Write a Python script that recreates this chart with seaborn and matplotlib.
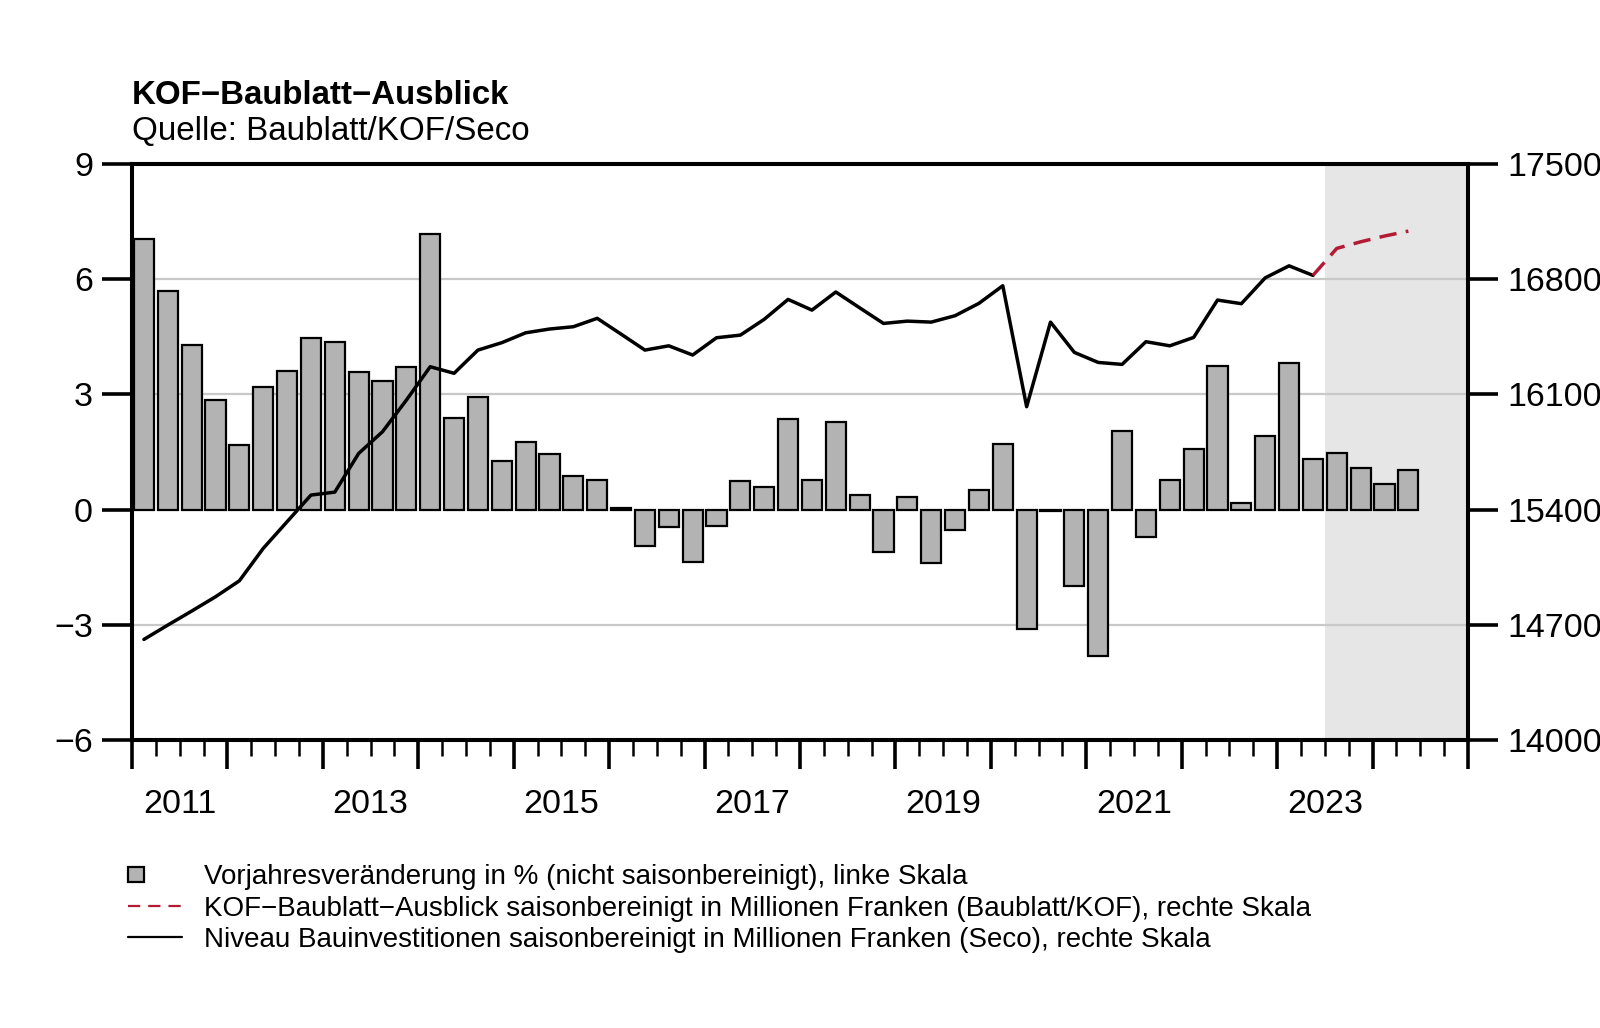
import numpy as np
import matplotlib
matplotlib.use("Agg")
import matplotlib.pyplot as plt
import matplotlib.patches as mpatches
from matplotlib.lines import Line2D
from matplotlib.legend_handler import HandlerPatch
import seaborn as sns

# quarterly data 2011Q1 - 2024Q2
quarters = [f"{2011 + i // 4}Q{i % 4 + 1}" for i in range(54)]

# Vorjahresveraenderung in % (linke Skala)
veraenderung = [
    7.04, 5.70, 4.28, 2.85, 1.68, 3.19, 3.61, 4.47, 4.36, 3.58,
    3.35, 3.72, 7.17, 2.38, 2.94, 1.26, 1.76, 1.45, 0.87, 0.77,
    0.04, -0.95, -0.46, -1.36, -0.42, 0.75, 0.59, 2.36, 0.77, 2.28,
    0.38, -1.10, 0.33, -1.38, -0.53, 0.52, 1.71, -3.12, -0.04, -1.98,
    -3.81, 2.04, -0.72, 0.78, 1.58, 3.75, 0.16, 1.92, 3.82, 1.32,
    1.47, 1.09, 0.67, 1.04,
]

# Niveau Bauinvestitionen (Seco), 2011Q1 - 2023Q2, rechte Skala
seco = [
    14611, 14698, 14783, 14870, 14967, 15164, 15326, 15488, 15506, 15741,
    15873, 16065, 16268, 16228, 16369, 16414, 16474, 16497, 16511, 16562,
    16466, 16369, 16395, 16339, 16444, 16460, 16556, 16677, 16612, 16722,
    16626, 16531, 16545, 16539, 16578, 16653, 16760, 16025, 16539, 16355,
    16294, 16282, 16420, 16395, 16446, 16673, 16651, 16808, 16881, 16823,
]

# KOF-Baublatt-Ausblick, 2023Q2 - 2024Q2, rechte Skala
ausblick = [16823, 16987, 17027, 17062, 17092]

prognose_start = "2023Q3"
label_years = [2011, 2013, 2015, 2017, 2019, 2021, 2023]


def qpos(q):
    # middle of the quarter on a decimal-year axis
    return int(q[:4]) + (int(q[-1]) - 1) / 4 + 0.125


t = np.array([qpos(q) for q in quarters])
t_seco = t[:len(seco)]
t_ausblick = t[len(seco) - 1:len(seco) - 1 + len(ausblick)]

sns.set_style("white")
plt.rcParams["font.family"] = ["Liberation Sans", "DejaVu Sans"]
for k in ["text.color", "axes.labelcolor", "xtick.color", "ytick.color"]:
    plt.rcParams[k] = "black"

fig = plt.figure(figsize=(16, 10.28), dpi=100)
ax = fig.add_axes([0.0825, 0.2802, 0.835, 0.5603])
ax2 = ax.twinx()

ax.axvspan(qpos(prognose_start) - 0.125, 2025, color="#E6E6E6", zorder=0, lw=0)
for yv in [-3, 3, 6]:
    ax.axhline(yv, color="#C8C8C8", lw=1.6, zorder=1)

sns.barplot(x=t, y=veraenderung, native_scale=True, width=0.85,
            color="#B3B3B3", saturation=1, edgecolor="black", linewidth=1.6,
            errorbar=None, ax=ax, zorder=2)

sns.lineplot(x=t_seco, y=seco, color="black", lw=2.5, ax=ax2)
sns.lineplot(x=t_ausblick, y=ausblick, color="#B31B34", lw=2.5,
             dashes=(5, 2.7), ax=ax2)

ax.set_xlim(2011, 2025)
ax.set_ylim(-6, 9)
ax2.set_ylim(14000, 17500)
ax.set_yticks([-6, -3, 0, 3, 6, 9])
ax2.set_yticks(np.arange(14000, 17501, 700))
ax.set_xticks(range(2011, 2026))
ax.set_xticklabels([])
ax.set_xticks(np.arange(2011, 2025.01, 0.25), minor=True)
ax.set_xlabel("")
ax.set_ylabel("")
ax2.set_ylabel("")

ax.tick_params(axis="x", which="major", bottom=True, length=21, width=2.6,
               direction="out")
ax.tick_params(axis="x", which="minor", bottom=True, length=11.5, width=1.8,
               direction="out")
ax.tick_params(axis="y", left=True, length=21.6, width=2.6, pad=6.5, labelsize=24.5)
ax2.tick_params(axis="y", right=True, length=21.6, width=2.6, pad=6.5, labelsize=24.5)

sec = ax.secondary_xaxis("bottom")
sec.set_xticks([y + 0.5 for y in label_years], [str(y) for y in label_years])
sec.tick_params(length=0, pad=35, labelsize=24.5)
sec.spines["bottom"].set_visible(False)

for a in (ax, ax2):
    for s in a.spines.values():
        s.set_linewidth(2.9)
        s.set_color("black")

fig.text(0.0825, 1 - 104 / 1028, "KOF−Baublatt−Ausblick", fontsize=23.8,
         fontweight="bold", va="baseline", ha="left")
fig.text(0.0825, 1 - 140 / 1028, "Quelle: Baublatt/KOF/Seco", fontsize=23.9,
         va="baseline", ha="left")


def small_box(legend, orig_handle, xdescent, ydescent, width, height, fontsize):
    s = height * 0.75
    return mpatches.Rectangle((-xdescent, -ydescent + (height - s) / 2), s * 1.1, s)


handles = [
    mpatches.Patch(facecolor="#B3B3B3", edgecolor="black", linewidth=1.6),
    Line2D([], [], color="#B31B34", lw=1.6, dashes=(5.5, 3.6)),
    Line2D([], [], color="black", lw=1.6),
]
labels = [
    "Vorjahresveränderung in % (nicht saisonbereinigt), linke Skala",
    "KOF−Baublatt−Ausblick saisonbereinigt in Millionen Franken (Baublatt/KOF), rechte Skala",
    "Niveau Bauinvestitionen saisonbereinigt in Millionen Franken (Seco), rechte Skala",
]
fig.legend(handles, labels, loc="upper left", bbox_to_anchor=(0.08, 1 - 864 / 1028),
           frameon=False, fontsize=20, borderpad=0, borderaxespad=0,
           handlelength=1.95, handletextpad=0.8, labelspacing=0.2,
           handler_map={mpatches.Patch: HandlerPatch(patch_func=small_box)})

fig.savefig("out.png", dpi=100)
